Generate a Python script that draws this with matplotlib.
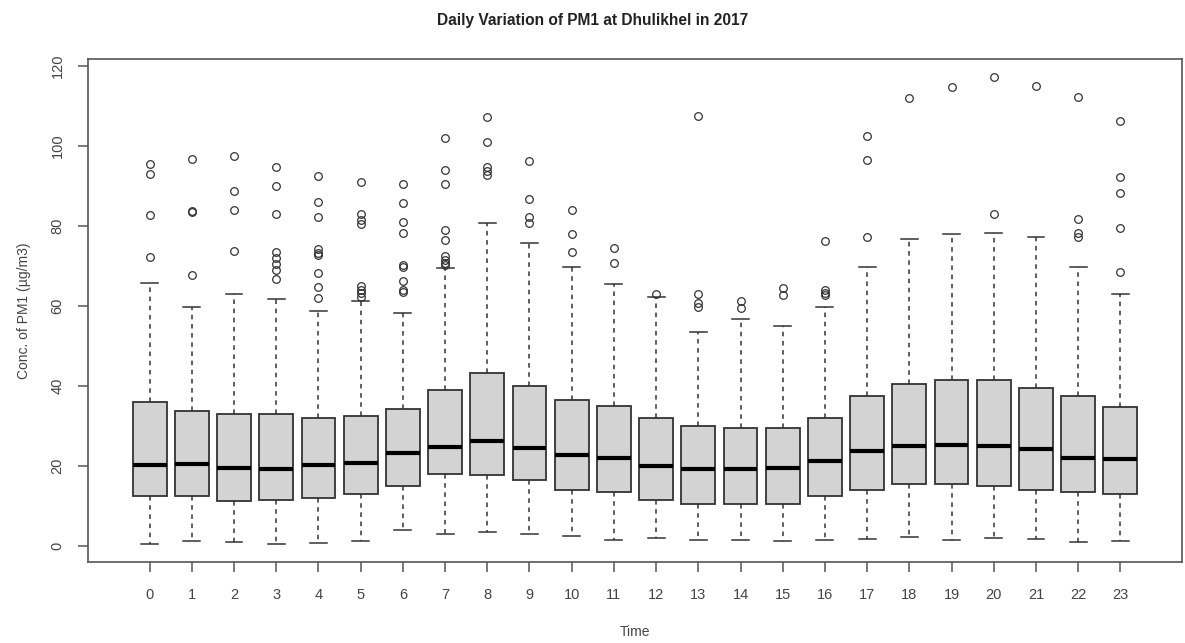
import matplotlib.pyplot as plt
import numpy as np

plt.rcParams["font.family"] = ["Liberation Sans", "DejaVu Sans"]

hours = list(range(24))
whislo = [0.5, 1.3, 0.9, 0.5, 0.8, 1.3, 3.9, 3.0, 3.5, 3.0, 2.4, 1.4,
          1.9, 1.4, 1.4, 1.3, 1.4, 1.75, 2.3, 1.4, 1.9, 1.75, 1.0, 1.3]
q1 = [12.5, 12.5, 11.3, 11.4, 11.9, 13.0, 15.0, 17.9, 17.7, 16.5, 13.9, 13.4,
      11.4, 10.5, 10.5, 10.5, 12.4, 13.9, 15.4, 15.4, 14.9, 13.9, 13.4, 12.9]
med = [20.25, 20.6, 19.6, 19.25, 20.3, 20.75, 23.2, 24.75, 26.3, 24.5, 22.7, 21.9,
       20.1, 19.25, 19.25, 19.6, 21.3, 23.75, 24.9, 25.2, 24.9, 24.25, 21.9, 21.7]
q3 = [35.9, 33.7, 33.1, 33.0, 32.0, 32.4, 34.2, 39.0, 43.3, 40.1, 36.5, 34.9,
      31.9, 29.9, 29.4, 29.4, 32.0, 37.5, 40.5, 41.5, 41.5, 39.5, 37.5, 34.7]
whishi = [65.7, 59.6, 63.0, 61.7, 58.75, 61.1, 58.2, 69.4, 80.7, 75.7, 69.8, 65.5,
          62.2, 53.4, 56.7, 55.1, 59.8, 69.6, 76.75, 77.9, 78.2, 77.3, 69.6, 63.0]
outliers = [
    [95.4, 93.0, 82.8, 72.2],
    [96.75, 83.75, 83.4, 67.75],
    [97.5, 88.8, 84.0, 73.75],
    [94.7, 90.0, 82.9, 73.5, 71.9, 70.5, 69.0, 66.7],
    [92.5, 85.9, 82.3, 74.2, 73.2, 72.75, 68.2, 64.8, 61.9],
    [90.9, 83.0, 81.5, 80.5, 65.0, 64.0, 63.2, 62.3],
    [90.4, 85.7, 80.9, 78.2, 70.1, 69.8, 66.3, 64.0, 63.5],
    [101.9, 94.0, 90.4, 79.0, 76.5, 72.5, 71.5, 70.8, 70.25],
    [107.1, 100.9, 94.6, 93.6, 92.75],
    [96.25, 86.7, 82.3, 80.8],
    [84.0, 77.9, 73.4],
    [74.4, 70.8],
    [63.0],
    [107.4, 62.9, 60.7, 59.8],
    [61.25, 59.4],
    [64.4, 62.75],
    [76.1, 64.0, 63.3, 62.75],
    [102.4, 96.5, 77.2],
    [111.9],
    [114.8],
    [117.1, 83.0],
    [115.0],
    [112.25, 81.75, 78.2, 77.3],
    [106.25, 92.3, 88.2, 79.4, 68.4],
]

stats = []
for i in range(len(hours)):
    stats.append({"whislo": whislo[i], "q1": q1[i], "med": med[i], "q3": q3[i],
                  "whishi": whishi[i], "fliers": outliers[i]})

fig = plt.figure(figsize=(11.85, 6.43), dpi=100)
ax = fig.add_axes([88 / 1185, 1 - 562 / 643, (1182 - 88) / 1185, (562 - 59) / 643])

edge = "#333333"
ax.bxp(stats, positions=hours, widths=0.8, patch_artist=True,
       boxprops=dict(facecolor="#d3d3d3", edgecolor=edge, linewidth=1.3),
       medianprops=dict(color="black", linewidth=3, solid_capstyle="butt"),
       whiskerprops=dict(color=edge, linewidth=1.1, linestyle=(0, (3, 3))),
       capprops=dict(color=edge, linewidth=1.1),
       capwidths=0.4,
       flierprops=dict(marker="o", markerfacecolor="none", markeredgecolor=edge,
                       markersize=5.5, markeredgewidth=0.9, linestyle="none"))

ax.set_xlim(-1.46, 24.46)
ax.set_ylim(-4.0, 121.7)
ax.set_xticks(hours)
ax.set_xticklabels([str(h) for h in hours])
ax.set_yticks(np.arange(0, 121, 20))
ax.set_yticklabels([str(v) for v in range(0, 121, 20)], rotation=90, va="center")

for s in ax.spines.values():
    s.set_color("#555555")
    s.set_linewidth(1.2)
ax.tick_params(axis="both", length=7, width=1.1, color="#555555",
               labelcolor="#444444", labelsize=10.5)
ax.tick_params(axis="x", pad=12)
ax.tick_params(axis="y", pad=10)

ax.set_xlabel("Time", fontsize=10, color="#444444", labelpad=16)
ax.set_ylabel("Conc. of PM1 (µg/m3)", fontsize=10, color="#444444", labelpad=14)
fig.text(0.5, 1 - 20 / 643, "Daily Variation of PM1 at Dhulikhel in 2017",
         fontsize=11.2, fontweight="bold", color="#222222", ha="center", va="center")

fig.savefig("out.png", dpi=100)
